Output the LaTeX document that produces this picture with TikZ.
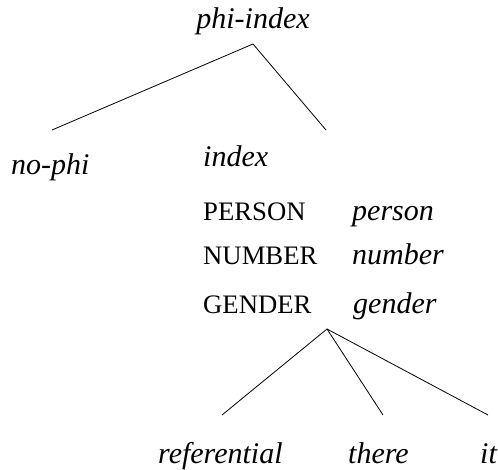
\documentclass[tikz,border=0pt]{standalone}
\usepackage{fontspec}
\setmainfont{Liberation Serif}
\begin{document}
\begin{tikzpicture}[x=1pt,y=-1pt,
  type/.style={anchor=base west,inner sep=0pt,font=\fontsize{30}{36}\selectfont\itshape},
  feat/.style={anchor=base west,inner sep=0pt,font=\fontsize{26.7}{32}\selectfont},
  branch/.style={line width=0.8pt}]
\useasboundingbox (0,0) rectangle (498,470);

% upper hierarchy
\node[type,anchor=base] (top) at (253,29) {phi-index};
\coordinate (topfoot) at (253,44);
\coordinate (nophiend) at (52,130);
\coordinate (indexend) at (326,130);
\node[type] (nophi) at (11,175) {no-phi};
\node[type] (index) at (203,167) {index};

% feature structure of index
\node[feat] (fperson) at (203,221) {PERSON};
\node[type] (vperson) at (352,221) {person};
\node[feat] (fnumber) at (203,265) {NUMBER};
\node[type] (vnumber) at (352,265) {number};
\node[feat] (fgender) at (203,313) {GENDER};
\node[type] (vgender) at (353,313) {gender};

% lower hierarchy
\coordinate (genfoot) at (327,329);
\coordinate (refend) at (222,415);
\coordinate (thereend) at (383,415);
\coordinate (itend) at (488,415);
\node[type] (ref) at (158,463) {referential};
\node[type] (there) at (348,463) {there};
\node[type] (it) at (480,463) {it};

\draw[branch] (nophiend) -- (topfoot) -- (indexend);
\draw[branch] (refend) -- (genfoot) -- (thereend);
\draw[branch] (genfoot) -- (itend);
\end{tikzpicture}
\end{document}
